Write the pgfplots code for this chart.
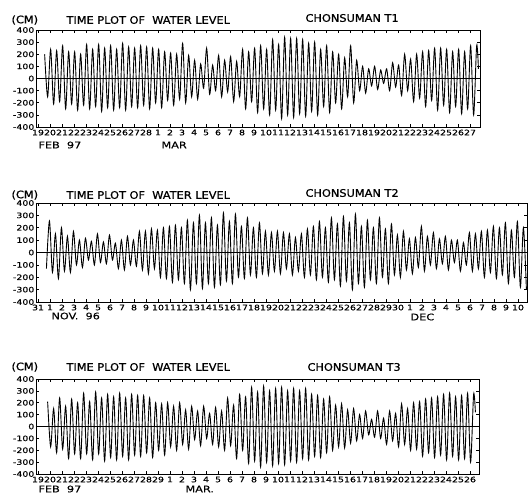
\documentclass[border=0pt]{standalone}
\usepackage{fontspec}
\setmainfont{DejaVu Sans}
\newfontfamily\tk[FakeStretch=1.25,FakeBold=0.5]{DejaVu Sans}
\newfontfamily\ttl[FakeStretch=1.08,FakeBold=0.8]{DejaVu Sans}
\usepackage{pgfplots}
\pgfplotsset{compat=1.18}

\pgfplotsset{tide/.style={
  scale only axis, anchor=south west,
  ymin=-400, ymax=400, xmin=-0.17,
  ytick={-400,-300,-200,-100,0,100,200,300,400},
  yticklabels={-400,-300,-200,-100,0,100,200,300,400},
  major tick length=3pt,
  axis line style={line width=0.9pt},
  tick style={black, line width=0.6pt},
  ticklabel style={font=\tk\fontsize{7.5}{8}\selectfont},
  xticklabel style={inner sep=1pt, yshift=-1.5pt},
  yticklabel style={inner sep=1.5pt},
}}
\newcommand\tlab{\ttl\fontsize{10.5}{12}\selectfont}
\newcommand\mlab{\tk\fontsize{9}{10}\selectfont}

\begin{document}
\begin{tikzpicture}
\useasboundingbox (0,0) rectangle (528pt,-499pt);

% ---- T1
\node[anchor=west] at (8pt,-20pt) {\tlab (CM)};
\node[anchor=west] at (63pt,-20pt) {\tlab TIME PLOT OF\ \ WATER LEVEL};
\node[anchor=west] at (302pt,-18pt) {\tlab CHONSUMAN T1};
\node[anchor=west] at (35pt,-145pt) {\mlab FEB\ \ 97};
\node[anchor=west] at (158pt,-145pt) {\mlab MAR};
\begin{axis}[tide, at={(36pt,-127pt)}, width=444pt, height=97pt, xmax=36.83,
  xtick={0,...,36},
  xticklabels={19,20,21,22,23,24,25,26,27,28,1,2,3,4,5,6,7,8,9,10,11,12,13,14,15,16,17,18,19,20,21,22,23,24,25,26,27}]
\addplot[black, line width=1.1pt] coordinates {(-0.17,0) (36.83,0)};
\addplot[black, line width=0.9pt, smooth] coordinates {
(0.55,200)(0.80,-150)(1.05,240)(1.30,-210)(1.55,230)(1.80,-190)(2.05,270)(2.30,-250)
(2.55,220)(2.80,-210)(3.05,220)(3.30,-260)(3.55,200)(3.80,-220)(4.05,280)(4.30,-250)
(4.55,240)(4.80,-230)(5.05,280)(5.30,-270)(5.55,250)(5.80,-240)(6.05,270)(6.30,-260)
(6.55,240)(6.80,-240)(7.05,290)(7.30,-260)(7.55,260)(7.80,-230)(8.05,250)(8.30,-240)
(8.55,270)(8.80,-220)(9.05,260)(9.30,-250)(9.55,250)(9.80,-200)(10.05,240)(10.30,-240)
(10.55,220)(10.80,-180)(11.05,210)(11.30,-220)(11.55,200)(11.80,-170)(12.05,290)(12.30,-200)
(12.55,190)(12.80,-150)(13.05,150)(13.30,-170)(13.55,120)(13.80,-80)(14.05,250)(14.30,-130)
(14.55,110)(14.80,-100)(15.05,190)(15.30,-150)(15.55,150)(15.80,-110)(16.05,180)(16.30,-190)
(16.55,140)(16.80,-150)(17.05,240)(17.30,-250)(17.55,220)(17.80,-190)(18.05,250)(18.30,-280)
(18.55,270)(18.80,-250)(19.05,240)(19.30,-300)(19.55,320)(19.80,-260)(20.05,280)(20.30,-330)
(20.55,340)(20.80,-300)(21.05,330)(21.30,-320)(21.55,330)(21.80,-290)(22.05,320)(22.30,-310)
(22.55,290)(22.80,-270)(23.05,300)(23.30,-300)(23.55,240)(23.80,-230)(24.05,270)(24.30,-280)
(24.55,220)(24.80,-200)(25.05,200)(25.30,-250)(25.55,170)(25.80,-150)(26.05,270)(26.30,-200)
(26.55,150)(26.80,-100)(27.05,100)(27.30,-120)(27.55,80)(27.80,-60)(28.05,100)(28.30,-90)
(28.55,70)(28.80,-40)(29.05,80)(29.30,-100)(29.55,130)(29.80,-70)(30.05,110)(30.30,-140)
(30.55,200)(30.80,-100)(31.05,160)(31.30,-190)(31.55,200)(31.80,-160)(32.05,220)(32.30,-230)
(32.55,230)(32.80,-180)(33.05,250)(33.30,-260)(33.55,250)(33.80,-220)(34.05,240)(34.30,-280)
(34.55,220)(34.80,-230)(35.05,240)(35.30,-290)(35.55,220)(35.80,-250)(36.05,270)(36.30,-300)
(36.55,270)(36.70,80)};
\end{axis}

% ---- T2
\node[anchor=west] at (8pt,-195pt) {\tlab (CM)};
\node[anchor=west] at (63pt,-195pt) {\tlab TIME PLOT OF\ \ WATER LEVEL};
\node[anchor=west] at (302pt,-193pt) {\tlab CHONSUMAN T2};
\node[anchor=west] at (48pt,-316pt) {\mlab NOV.\ \ 96};
\node[anchor=west] at (407pt,-317pt) {\mlab DEC};
\begin{axis}[tide, at={(36pt,-302pt)}, width=491pt, height=99pt, xmax=40.75,
  xtick={0,...,40},
  xticklabels={31,1,2,3,4,5,6,7,8,9,10,11,12,13,14,15,16,17,18,19,20,21,22,23,24,25,26,27,28,29,30,1,2,3,4,5,6,7,8,9,10}]
\addplot[black, line width=1.1pt] coordinates {(-0.17,0) (40.75,0)};
\addplot[black, line width=0.9pt, smooth] coordinates {
(0.70,-130)
(0.95,255)(1.20,-160)(1.45,150)(1.70,-210)(1.95,200)(2.20,-150)(2.45,130)(2.70,-160)
(2.95,170)(3.20,-100)(3.45,100)(3.70,-120)(3.95,115)(4.20,-60)(4.45,90)(4.70,-100)
(4.95,150)(5.20,-80)(5.45,85)(5.70,-90)(5.95,140)(6.20,-60)(6.45,75)(6.70,-130)
(6.95,100)(7.20,-140)(7.45,130)(7.70,-100)(7.95,100)(8.20,-110)(8.45,170)(8.70,-140)
(8.95,170)(9.20,-170)(9.45,190)(9.70,-130)(9.95,180)(10.20,-200)(10.45,200)(10.70,-210)
(10.95,210)(11.20,-240)(11.45,220)(11.70,-220)(11.95,200)(12.20,-250)(12.45,260)(12.70,-300)
(12.95,240)(13.20,-250)(13.45,300)(13.70,-290)(13.95,240)(14.20,-250)(14.45,280)(14.70,-280)
(14.95,220)(15.20,-260)(15.45,320)(15.70,-230)(15.95,250)(16.20,-250)(16.45,310)(16.70,-200)
(16.95,210)(17.20,-210)(17.45,280)(17.70,-180)(17.95,200)(18.20,-200)(18.45,240)(18.70,-170)
(18.95,170)(19.20,-180)(19.45,160)(19.70,-150)(19.95,170)(20.20,-170)(20.45,160)(20.70,-130)
(20.95,150)(21.20,-180)(21.45,120)(21.70,-150)(21.95,150)(22.20,-200)(22.45,190)(22.70,-180)
(22.95,210)(23.20,-220)(23.45,250)(23.70,-200)(23.95,200)(24.20,-240)(24.45,280)(24.70,-220)
(24.95,230)(25.20,-270)(25.45,290)(25.70,-230)(25.95,240)(26.20,-300)(26.45,310)(26.70,-250)
(26.95,210)(27.20,-280)(27.45,260)(27.70,-220)(27.95,200)(28.20,-250)(28.45,280)(28.70,-200)
(28.95,190)(29.20,-250)(29.45,230)(29.70,-180)(29.95,140)(30.20,-200)(30.45,170)(30.70,-140)
(30.95,110)(31.20,-170)(31.45,120)(31.70,-120)(31.95,210)(32.20,-150)(32.45,130)(32.70,-100)
(32.95,160)(33.20,-130)(33.45,110)(33.70,-90)(33.95,130)(34.20,-140)(34.45,100)(34.70,-80)
(34.95,100)(35.20,-150)(35.45,80)(35.70,-100)(35.95,160)(36.20,-150)(36.45,150)(36.70,-130)
(36.95,170)(37.20,-200)(37.45,180)(37.70,-160)(37.95,210)(38.20,-210)(38.45,200)(38.70,-180)
(38.95,240)(39.20,-250)(39.45,180)(39.70,-200)(39.95,250)(40.20,-280)(40.45,200)(40.70,-300)};
\end{axis}

% ---- T3
\node[anchor=west] at (8pt,-367pt) {\tlab (CM)};
\node[anchor=west] at (63pt,-367pt) {\tlab TIME PLOT OF\ \ WATER LEVEL};
\node[anchor=west] at (304pt,-367pt) {\tlab CHONSUMAN T3};
\node[anchor=west] at (35pt,-489pt) {\mlab FEB\ \ 97};
\node[anchor=west] at (182pt,-489pt) {\mlab MAR.};
\begin{axis}[tide, at={(36pt,-474pt)}, width=443pt, height=95pt, xmax=36.75,
  xtick={0,...,36},
  xticklabels={19,20,21,22,23,24,25,26,27,28,29,1,2,3,4,5,6,7,8,9,10,11,12,13,14,15,16,17,18,19,20,21,22,23,24,25,26}]
\addplot[black, line width=1.1pt] coordinates {(-0.17,0) (36.75,0)};
\addplot[black, line width=0.9pt, smooth] coordinates {
(0.80,210)(1.05,-170)(1.30,150)(1.55,-220)(1.80,240)(2.05,-190)(2.30,170)(2.55,-270)
(2.80,230)(3.05,-230)(3.30,200)(3.55,-270)(3.80,280)(4.05,-230)(4.30,210)(4.55,-280)
(4.80,290)(5.05,-230)(5.30,240)(5.55,-290)(5.80,270)(6.05,-260)(6.30,250)(6.55,-280)
(6.80,280)(7.05,-250)(7.30,240)(7.55,-280)(7.80,270)(8.05,-240)(8.30,260)(8.55,-250)
(8.80,260)(9.05,-220)(9.30,240)(9.55,-260)(9.80,200)(10.05,-200)(10.30,190)(10.55,-240)
(10.80,200)(11.05,-170)(11.30,170)(11.55,-200)(11.80,200)(12.05,-150)(12.30,140)(12.55,-190)
(12.80,170)(13.05,-110)(13.30,130)(13.55,-160)(13.80,170)(14.05,-100)(14.30,110)(14.55,-150)
(14.80,160)(15.05,-170)(15.30,130)(15.55,-200)(15.80,240)(16.05,-160)(16.30,180)(16.55,-270)
(16.80,270)(17.05,-200)(17.30,250)(17.55,-310)(17.80,330)(18.05,-290)(18.30,290)(18.55,-340)
(18.80,340)(19.05,-300)(19.30,300)(19.55,-330)(19.80,320)(20.05,-310)(20.30,330)(20.55,-320)
(20.80,300)(21.05,-290)(21.30,320)(21.55,-300)(21.80,300)(22.05,-270)(22.30,320)(22.55,-280)
(22.80,270)(23.05,-250)(23.30,260)(23.55,-260)(23.80,230)(24.05,-220)(24.30,250)(24.55,-200)
(24.80,180)(25.05,-170)(25.30,190)(25.55,-180)(25.80,140)(26.05,-140)(26.30,150)(26.55,-120)
(26.80,100)(27.05,-100)(27.30,130)(27.55,-70)(27.80,60)(28.05,-90)(28.30,130)(28.55,-100)
(28.80,70)(29.05,-150)(29.30,130)(29.55,-120)(29.80,110)(30.05,-170)(30.30,190)(30.55,-150)
(30.80,150)(31.05,-200)(31.30,200)(31.55,-190)(31.80,210)(32.05,-250)(32.30,230)(32.55,-220)
(32.80,240)(33.05,-260)(33.30,250)(33.55,-240)(33.80,270)(34.05,-280)(34.30,280)(34.55,-250)
(34.80,250)(35.05,-280)(35.30,260)(35.55,-270)(35.80,280)(36.05,-300)(36.30,270)(36.45,120)};
\end{axis}
\end{tikzpicture}
\end{document}
